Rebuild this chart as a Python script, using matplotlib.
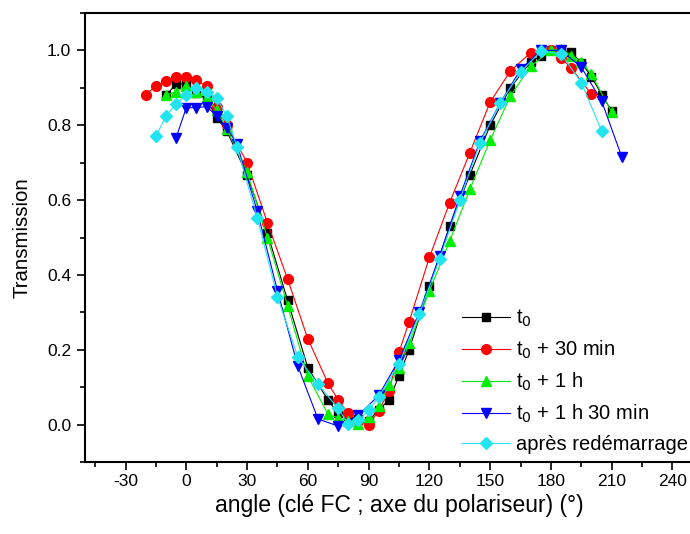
import matplotlib as mpl
mpl.use('Agg')
import matplotlib.pyplot as plt
from matplotlib.ticker import MultipleLocator

plt.rcParams['font.family'] = ['Liberation Sans', 'DejaVu Sans']
plt.rcParams['axes.unicode_minus'] = False

# t0
ang_t0 = [-10, -5, 0, 5, 10, 15, 20, 30, 40, 50, 60, 70, 75, 80, 85, 90, 95, 100, 105, 110,
          120, 130, 140, 150, 160, 170, 175, 180, 185, 190, 195, 200, 205, 210]
tr_t0 = [0.88, 0.91, 0.91, 0.885, 0.87, 0.82, 0.785, 0.667, 0.513, 0.332, 0.152, 0.065, 0.03, 0.022,
         0.015, 0.01, 0.04, 0.065, 0.13, 0.20, 0.37, 0.53, 0.668, 0.80, 0.90, 0.97, 0.985, 1.0,
         1.0, 0.995, 0.967, 0.93, 0.882, 0.838]

# t0 + 30 min
ang_30 = [-20, -15, -10, -5, 0, 5, 10, 15, 20, 30, 40, 50, 60, 70, 75, 80, 85, 90, 95, 100,
          105, 110, 120, 130, 140, 150, 160, 170, 180, 185, 190, 200]
tr_30 = [0.882, 0.905, 0.918, 0.93, 0.93, 0.92, 0.905, 0.85, 0.80, 0.70, 0.54, 0.389, 0.229,
         0.11, 0.066, 0.03, 0.01, 0.0, 0.037, 0.09, 0.193, 0.275, 0.447, 0.593, 0.727, 0.862,
         0.945, 0.994, 1.0, 0.98, 0.953, 0.883]

# t0 + 1 h
ang_1h = [-10, -5, 0, 5, 10, 15, 20, 30, 40, 50, 60, 70, 75, 80, 85, 90, 95, 100, 105, 110,
          120, 130, 140, 150, 160, 170, 180, 185, 190, 195, 200, 210]
tr_1h = [0.88, 0.89, 0.905, 0.89, 0.875, 0.84, 0.79, 0.675, 0.50, 0.318, 0.13, 0.027, 0.018,
         0.01, 0.002, 0.02, 0.05, 0.105, 0.15, 0.217, 0.357, 0.49, 0.629, 0.76, 0.878, 0.958,
         1.0, 1.005, 0.986, 0.97, 0.936, 0.835]

# t0 + 1 h 30 min
ang_1h30 = [-5, 0, 5, 10, 15, 20, 25, 35, 45, 55, 65, 75, 85, 95, 105, 115, 125, 135, 145,
            155, 165, 175, 185, 195, 205, 215]
tr_1h30 = [0.767, 0.847, 0.847, 0.85, 0.825, 0.793, 0.75, 0.571, 0.358, 0.157, 0.015, -0.004,
           0.025, 0.078, 0.173, 0.30, 0.45, 0.61, 0.758, 0.86, 0.949, 1.0, 1.0, 0.955, 0.865, 0.715]

# après redémarrage
ang_re = [-15, -10, -5, 0, 5, 10, 15, 20, 25, 35, 45, 55, 65, 75, 80, 85, 90, 95, 105, 115,
          125, 135, 145, 155, 165, 175, 185, 195, 205]
tr_re = [0.77, 0.825, 0.857, 0.882, 0.90, 0.89, 0.873, 0.825, 0.742, 0.553, 0.342, 0.181,
         0.108, 0.043, 0.001, 0.011, 0.038, 0.074, 0.162, 0.295, 0.442, 0.60, 0.753, 0.86,
         0.942, 0.998, 0.991, 0.914, 0.785]

labels = ['t$_0$', 't$_0$ + 30 min', 't$_0$ + 1 h', 't$_0$ + 1 h 30 min', 'après redémarrage']

fig = plt.figure(figsize=(6.9, 5.34), dpi=100)
ax = fig.add_axes([85 / 690, 72 / 534, 628 / 690, 449 / 534])

series = [
    (ang_t0, tr_t0, 'black', 's', 6),
    (ang_30, tr_30, '#ff0000', 'o', 7),
    (ang_1h, tr_1h, '#00ee00', '^', 7),
    (ang_1h30, tr_1h30, '#0000ff', 'v', 7),
    (ang_re, tr_re, '#22e4f0', 'D', 6),
]
for (x, y, c, m, ms), lab in zip(series, labels):
    ax.plot(x, y, color=c, lw=0.8, marker=m, ms=ms, mec=c, mfc=c, label=lab)

ax.set_xlim(-50, 260)
ax.set_ylim(-0.1, 1.1)
ax.xaxis.set_major_locator(MultipleLocator(30))
ax.xaxis.set_minor_locator(MultipleLocator(15))
ax.yaxis.set_major_locator(MultipleLocator(0.2))
ax.yaxis.set_minor_locator(MultipleLocator(0.1))
ax.yaxis.set_major_formatter(mpl.ticker.FormatStrFormatter('%.1f'))
ax.tick_params(which='both', direction='out', top=False, right=False, width=1.2)
ax.tick_params(which='major', length=6, labelsize=12.5, pad=4)
ax.tick_params(axis='x', which='major', pad=3)
ax.tick_params(which='minor', length=3.5)
for s in ax.spines.values():
    s.set_linewidth(1.5)

ax.set_xlabel('angle (clé FC ; axe du polariseur) (°)', fontsize=16.5, labelpad=3)
ax.set_ylabel('Transmission', fontsize=14.7, labelpad=11)

ax.legend(loc='lower left', bbox_to_anchor=(462 / 690, 80 / 534), bbox_transform=fig.transFigure,
          frameon=False, fontsize=14.5, handlelength=2.4, handletextpad=0.3, labelspacing=0.48,
          borderpad=0, borderaxespad=0)

fig.savefig('out.png', dpi=100)
